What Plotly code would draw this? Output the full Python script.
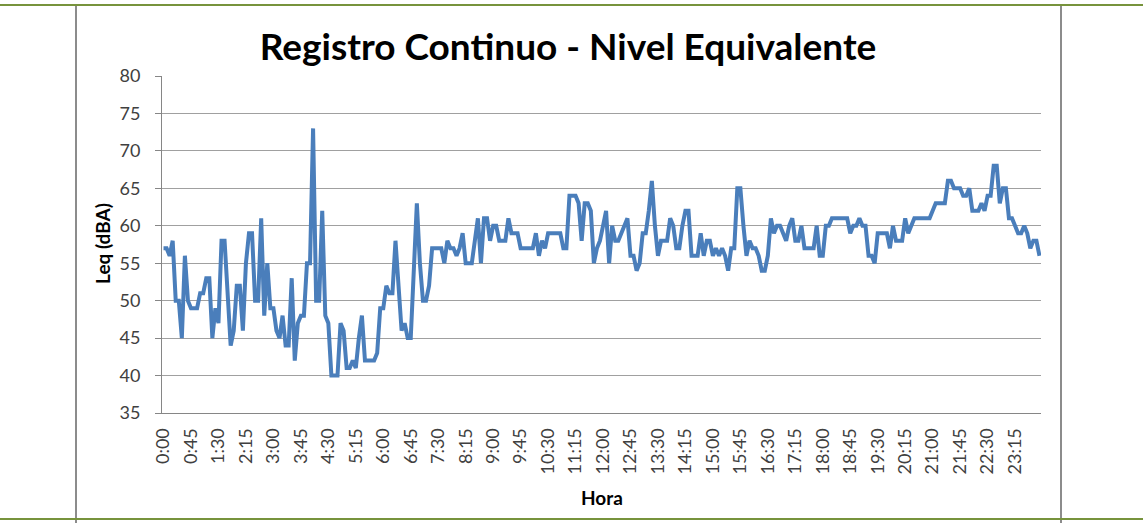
import plotly.graph_objects as go

# Categories: 5-minute intervals over 24 h
hora = [f"{h}:{m:02d}" for h in range(24) for m in range(0, 60, 5)]

leq = [
    57, 57, 56, 58, 50, 50, 45, 56, 50, 49, 49, 49, 51, 51, 53, 53, 45, 49, 47, 58,
    58, 51, 44, 46, 52, 52, 46, 55, 59, 59, 50, 50, 61, 48, 55, 49, 49, 46, 45, 48,
    44, 44, 53, 42, 47, 48, 48, 55, 55, 73, 50, 50, 62, 48, 47, 40, 40, 40, 47, 46,
    41, 41, 42, 41, 45, 48, 42, 42, 42, 42, 43, 49, 49, 52, 51, 51, 58, 51, 46, 47,
    45, 45, 54, 63, 55, 50, 50, 52, 57, 57, 57, 57, 55, 58, 57, 57, 56, 57, 59, 55,
    55, 55, 58, 61, 55, 61, 61, 58, 60, 60, 58, 58, 58, 61, 59, 59, 59, 57, 57, 57,
    57, 57, 59, 56, 58, 57, 59, 59, 59, 59, 59, 57, 57, 64, 64, 64, 63, 58, 63, 63,
    62, 55, 57, 58, 60, 62, 55, 60, 58, 58, 59, 60, 61, 56, 56, 54, 55, 59, 59, 62,
    66, 60, 56, 58, 58, 58, 61, 60, 57, 57, 60, 62, 62, 56, 56, 56, 59, 56, 58, 58,
    56, 57, 56, 57, 56, 54, 57, 57, 65, 65, 60, 56, 58, 57, 57, 56, 54, 54, 56, 61,
    59, 60, 60, 59, 58, 60, 61, 58, 58, 60, 57, 57, 57, 57, 60, 56, 56, 60, 60, 61,
    61, 61, 61, 61, 61, 59, 60, 60, 61, 60, 60, 56, 56, 55, 59, 59, 59, 59, 57, 60,
    58, 58, 58, 61, 59, 60, 61, 61, 61, 61, 61, 61, 62, 63, 63, 63, 63, 66, 66, 65,
    65, 65, 64, 64, 65, 62, 62, 62, 63, 62, 64, 64, 68, 68, 63, 65, 65, 61, 61, 60,
    59, 59, 60, 59, 57, 58, 58, 56,
]

tick_labels = hora[::9]
y_ticks = [35, 40, 45, 50, 55, 60, 65, 70, 75, 80]

W, H = 1143, 523
ML, MR, MT, MB = 162, 102, 76, 110

fig = go.Figure()
fig.add_trace(go.Scatter(
    x=hora, y=leq, mode="lines",
    line=dict(color="#4A7EBB", width=4),
    hoverinfo="x+y", showlegend=False,
))

pw = W - ML - MR
ph = H - MT - MB
def px_x(px):
    return (px - ML) / pw
def px_y(py):
    return (H - MB - py) / ph

shapes = [
    dict(type="line", xref="paper", yref="paper", x0=px_x(76), x1=px_x(76), y0=px_y(5), y1=px_y(523),
         line=dict(color="#8C8C8C", width=2)),
    dict(type="line", xref="paper", yref="paper", x0=px_x(1061), x1=px_x(1061), y0=px_y(5), y1=px_y(523),
         line=dict(color="#8C8C8C", width=2)),
    dict(type="line", xref="paper", yref="paper", x0=px_x(0), x1=px_x(W), y0=px_y(5), y1=px_y(5),
         line=dict(color="#77933C", width=2)),
    dict(type="line", xref="paper", yref="paper", x0=px_x(0), x1=px_x(W), y0=px_y(519), y1=px_y(519),
         line=dict(color="#77933C", width=2)),
]

annotations = [
    dict(text="<b>Hora</b>", xref="paper", yref="paper", x=px_x(602), y=px_y(497),
         xanchor="center", yanchor="middle", showarrow=False,
         font=dict(size=19, color="#000000")),
    dict(text="<b>Leq (dBA)</b>", xref="paper", yref="paper", x=px_x(102), y=px_y(244),
         xanchor="center", yanchor="middle", showarrow=False, textangle=-90,
         font=dict(size=19, color="#000000")),
]

fig.update_layout(
    width=W, height=H,
    margin=dict(l=ML, r=MR, t=MT, b=MB, pad=0),
    paper_bgcolor="white", plot_bgcolor="white",
    font=dict(family="Lato, 'Open Sans', sans-serif", color="#404040"),
    title=dict(text="<b>Registro Continuo - Nivel Equivalente</b>",
               x=568 / W, xref="container", xanchor="center",
               y=1 - 47 / H, yanchor="middle",
               font=dict(size=37, color="#000000", family="Lato, sans-serif")),
    shapes=shapes,
    annotations=annotations,
    xaxis=dict(
        type="category", range=[-0.5, len(hora) - 0.5],
        tickmode="array", tickvals=tick_labels, ticktext=tick_labels,
        tickangle=-90, tickfont=dict(size=18, color="#404040"),
        showgrid=False, showline=True, linecolor="#868686", linewidth=1,
        ticks="", ticklabelstandoff=7,
    ),
    yaxis=dict(
        range=[35, 80], tickmode="array", tickvals=y_ticks,
        tickfont=dict(size=18, color="#404040"),
        showgrid=True, gridcolor="#A0A0A0", gridwidth=1,
        showline=True, linecolor="#868686", linewidth=1,
        ticks="outside", ticklen=6, tickcolor="#868686",
        ticklabelstandoff=11,
        zeroline=False,
    ),
)

fig.write_html(
    "out.html",
    config={"displayModeBar": False},
    post_script="document.body.style.margin='0';document.body.style.overflow='hidden';",
)
